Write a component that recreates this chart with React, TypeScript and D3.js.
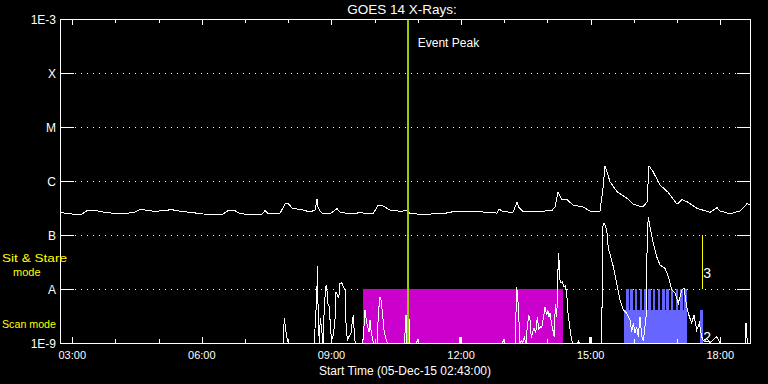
import React from 'react';
import * as d3 from 'd3';

const W = 768;
const H = 384;
const PLOT = { left: 60, right: 750.5, top: 19, bottom: 343 };

// times in decimal hours (UT, 05-Dec-15)
const timeStart = 2 + 43 / 60;
const timeEnd = 18 + 42 / 60;
const majorHours = [3, 6, 9, 12, 15, 18];
const majorLabels = ['03:00', '06:00', '09:00', '12:00', '15:00', '18:00'];
const minorHours = [3, 4, 5, 6, 7, 8, 9, 10, 11, 12, 13, 14, 15, 16, 17, 18];

const yTickValues = [1e-3, 1e-4, 1e-5, 1e-6, 1e-7, 1e-8, 1e-9];
const yTickLabels = ['1E-3', 'X', 'M', 'C', 'B', 'A', '1E-9'];
const gridValues = [1e-4, 1e-5, 1e-6, 1e-7, 1e-8];

const FLOOR = 1e-10;

// GOES long channel (1-8 Å) [hour, flux]
const longChannel: [number, number][] = [
  [2.717, 2.59e-7], [2.879, 2.52e-7], [3.110, 2.38e-7], [3.226, 2.45e-7], [3.365, 2.90e-7],
  [3.481, 2.90e-7], [3.712, 2.67e-7], [3.944, 2.52e-7], [4.268, 2.52e-7], [4.453, 2.67e-7],
  [4.569, 2.99e-7], [4.800, 2.82e-7], [4.869, 2.75e-7], [5.193, 2.82e-7], [5.263, 2.99e-7],
  [5.494, 2.75e-7], [5.795, 2.59e-7], [6.027, 2.45e-7], [6.351, 2.38e-7], [6.490, 2.45e-7],
  [6.606, 2.82e-7], [6.768, 2.82e-7], [6.883, 2.48e-7], [7.184, 2.38e-7], [7.393, 2.45e-7],
  [7.462, 2.82e-7], [7.532, 2.52e-7], [7.809, 2.52e-7], [7.925, 3.75e-7], [7.995, 3.86e-7],
  [8.087, 3.16e-7], [8.342, 2.90e-7], [8.504, 2.67e-7], [8.620, 2.90e-7], [8.666, 4.58e-7],
  [8.689, 3.34e-7], [8.735, 2.82e-7], [8.782, 2.52e-7], [8.967, 2.45e-7], [9.129, 3.07e-7],
  [9.198, 2.67e-7], [9.430, 2.45e-7], [9.661, 2.59e-7], [9.962, 2.45e-7], [10.078, 3.55e-7],
  [10.194, 3.44e-7], [10.356, 2.90e-7], [10.587, 2.75e-7], [10.749, 2.82e-7], [10.819, 2.52e-7],
  [11.050, 2.42e-7], [11.583, 2.48e-7], [11.814, 2.70e-7], [12.208, 2.78e-7], [12.601, 2.63e-7],
  [12.833, 2.55e-7], [12.879, 3.03e-7], [12.972, 2.70e-7], [13.203, 2.63e-7], [13.296, 4.03e-7],
  [13.342, 3.21e-7], [13.434, 2.70e-7], [13.758, 2.70e-7], [14.106, 2.86e-7], [14.175, 3.30e-7],
  [14.245, 6.34e-7], [14.337, 4.51e-7], [14.453, 4.51e-7], [14.592, 3.60e-7], [14.823, 3.30e-7],
  [14.985, 2.78e-7], [15.217, 2.78e-7], [15.286, 7.41e-7], [15.333, 1.92e-6], [15.448, 9.70e-7],
  [15.610, 6.34e-7], [15.842, 4.79e-7], [15.981, 3.71e-7], [16.212, 3.30e-7], [16.305, 4.14e-7],
  [16.351, 1.92e-6], [16.444, 1.49e-6], [16.606, 8.43e-7], [16.791, 6.18e-7], [16.999, 3.71e-7],
  [17.115, 4.51e-7], [17.231, 4.14e-7], [17.462, 3.12e-7], [17.763, 2.63e-7], [17.925, 3.21e-7],
  [17.994, 2.78e-7], [18.226, 2.48e-7], [18.457, 2.78e-7], [18.619, 3.80e-7], [18.689, 3.60e-7],
];

// GOES short channel (0.5-4 Å) [hour, flux]
const shortChannel: [number, number][] = [
  [2.717, FLOOR], [7.879, FLOOR], [7.909, 2.87e-9], [7.941, 1.74e-9], [7.964, 1.31e-9], [8.001, FLOOR],
  [8.603, FLOOR], [8.620, 1.90e-9], [8.636, 3.80e-9], [8.659, 5.06e-9], [8.673, 2.67e-8], [8.696, 2.67e-9],
  [8.719, FLOOR], [8.742, 2.87e-9], [8.775, 1.74e-9], [8.805, FLOOR], [8.835, 4.70e-9], [8.867, 1.10e-8],
  [8.890, 1.14e-8], [8.913, 5.43e-9], [8.950, 4.70e-9], [8.983, 1.62e-9], [9.006, 1.14e-9], [9.043, 1.41e-9],
  [9.082, 2.67e-9], [9.105, 8.91e-9], [9.136, 7.74e-9], [9.168, 6.73e-9], [9.198, 1.28e-8], [9.237, 1.31e-8],
  [9.274, 1.10e-8], [9.314, 9.57e-9], [9.337, 2.32e-9], [9.367, 1.14e-9], [9.413, 1.35e-9], [9.453, 1.51e-9],
  [9.483, 2.48e-9], [9.506, 3.30e-9], [9.538, 1.14e-9], [9.569, FLOOR], [9.720, FLOOR], [9.738, 1.28e-9],
  [9.777, 4.08e-9], [9.816, 2.32e-9], [9.839, 2.01e-9], [9.869, 1.62e-9], [9.893, 2.67e-9], [9.916, 1.74e-9],
  [9.955, 1.14e-9], [9.985, FLOOR], [10.060, FLOOR], [10.085, 3.55e-9], [10.124, 7.20e-9], [10.147, 6.25e-9],
  [10.177, 3.80e-9], [10.217, 1.74e-9], [10.263, 1.17e-9], [10.298, FLOOR], [10.690, FLOOR], [10.726, 3.30e-9],
  [10.749, FLOOR], [10.772, FLOOR], [10.795, 2.87e-9], [10.819, FLOOR], [10.970, FLOOR], [10.988, 1.14e-9],
  [11.010, FLOOR], [11.960, FLOOR], [11.976, 1.28e-9], [11.995, FLOOR], [12.960, FLOOR], [12.979, 1.14e-9],
  [13.000, FLOOR], [13.250, FLOOR], [13.266, 1.51e-9], [13.280, 1.07e-8], [13.303, 8.91e-9], [13.326, 4.70e-9],
  [13.349, 1.74e-9], [13.365, FLOOR], [13.404, 1.10e-9], [13.430, FLOOR], [13.464, 1.28e-9], [13.504, FLOOR],
  [13.534, 2.01e-9], [13.566, 3.30e-9], [13.596, 2.67e-9], [13.627, 1.22e-9], [13.659, 1.62e-9], [13.689, 1.90e-9],
  [13.728, 1.51e-9], [13.765, 3.07e-9], [13.798, 1.74e-9], [13.828, 2.01e-9], [13.867, 1.90e-9], [13.904, 2.87e-9],
  [13.944, 4.58e-9], [13.983, 3.30e-9], [14.006, 4.08e-9], [14.036, 3.07e-9], [14.059, 3.64e-9], [14.098, 2.15e-9],
  [14.136, 1.62e-9], [14.159, 1.28e-9], [14.182, 5.27e-9], [14.215, 3.07e-9], [14.238, 1.28e-8], [14.252, 4.58e-8],
  [14.275, 2.99e-8], [14.291, 1.47e-8], [14.314, 1.28e-8], [14.344, 1.36e-8], [14.376, 1.10e-8], [14.414, 1.14e-8],
  [14.446, 8.32e-9], [14.476, 3.55e-9], [14.506, 2.32e-9], [14.530, 1.62e-9], [14.553, 1.22e-9], [14.585, FLOOR],
  [14.700, FLOOR], [14.715, 1.10e-9], [14.735, FLOOR], [14.970, FLOOR], [14.985, 1.31e-9], [15.001, FLOOR],
  [15.256, FLOOR], [15.279, 1.43e-7], [15.309, 1.69e-7], [15.372, 1.24e-7], [15.409, 5.68e-8], [15.464, 3.97e-8],
  [15.525, 2.59e-8], [15.603, 1.28e-8], [15.680, 6.25e-9], [15.756, 4.08e-9], [15.835, 3.55e-9], [15.911, 2.67e-9],
  [15.950, 1.62e-9], [15.988, 2.32e-9], [16.027, 1.51e-9], [16.066, 2.01e-9], [16.103, 1.31e-9], [16.143, 3.07e-9],
  [16.182, 1.31e-9], [16.219, 1.10e-9], [16.282, 3.07e-9], [16.312, 1.07e-7], [16.335, 2.13e-7], [16.374, 1.43e-7],
  [16.451, 7.02e-8], [16.529, 3.97e-8], [16.606, 2.78e-8], [16.721, 2.42e-8], [16.798, 1.69e-8], [16.877, 9.57e-9],
  [16.953, 8.32e-9], [17.029, 5.43e-9], [17.108, 9.57e-9], [17.161, 1.03e-8], [17.224, 4.70e-9], [17.284, 3.07e-9],
  [17.339, 2.32e-9], [17.392, 3.30e-9], [17.455, 1.74e-9], [17.515, 2.32e-9], [17.570, 1.31e-9], [17.607, 1.10e-9],
  [17.686, 1.22e-9], [17.763, FLOOR], [17.918, 1.31e-9], [17.994, FLOOR], [18.573, FLOOR], [18.596, 2.38e-9],
  [18.626, FLOOR], [18.689, FLOOR],
];

// Observation modes
const sitStareIntervals: [string, string][] = [['09:44', '14:21']];
const scanSolidIntervals: [string, string][] = [['15:46', '17:14'], ['17:32', '17:36']];
const scanSolidTop = 4.1e-9;
const scanStripeStarts = ['15:49', '15:55', '16:01', '16:08', '16:14', '16:20', '16:26', '16:33', '16:39', '16:45', '16:51', '16:58', '17:04', '17:10'];
const scanStripeMinutes = 3.75;
const modeTop = 1e-8;

const eventPeakTime = '10:46';
const markerTime = '17:35';
const markerRange: [number, number] = [1e-8, 1e-7];

const hm = (s: string) => {
  const [h, m] = s.split(':').map(Number);
  return h + m / 60;
};

const FONT = "'Liberation Sans', Arial, sans-serif";

export default function App() {
  const x = d3.scaleLinear().domain([timeStart, timeEnd]).range([PLOT.left, PLOT.right]);
  const y = d3.scaleLog().domain([1e-9, 1e-3]).range([PLOT.bottom, PLOT.top]).clamp(true);

  const line = d3
    .line<[number, number]>()
    .x((d) => x(d[0]))
    .y((d) => y(d[1]));

  const yBottom = y(1e-9);
  const yA = y(modeTop);

  return (
    <svg
      width={W}
      height={H}
      style={{ position: 'absolute', left: 0, top: 0, display: 'block' }}
      fontFamily={FONT}
    >
      <rect x={0} y={0} width={W} height={H} fill="#000" />

      {/* grid */}
      {gridValues.map((v) => (
        <line
          key={'g' + v}
          x1={PLOT.left + 15}
          x2={PLOT.right - 15}
          y1={Math.round(y(v)) + 0.5}
          y2={Math.round(y(v)) + 0.5}
          stroke="#fff"
          strokeDasharray="1 5"
          shapeRendering="crispEdges"
        />
      ))}

      {/* sit & stare mode */}
      {sitStareIntervals.map(([a, b], i) => (
        <rect
          key={'ss' + i}
          x={x(hm(a))}
          y={yA}
          width={x(hm(b)) - x(hm(a))}
          height={yBottom - yA}
          fill="#cc00cc"
          shapeRendering="crispEdges"
        />
      ))}

      {/* scan mode */}
      {scanSolidIntervals.map(([a, b], i) => (
        <rect
          key={'sc' + i}
          x={x(hm(a))}
          y={y(scanSolidTop)}
          width={x(hm(b)) - x(hm(a))}
          height={yBottom - y(scanSolidTop)}
          fill="#6666ff"
          shapeRendering="crispEdges"
        />
      ))}
      {scanStripeStarts.map((s, i) => {
        const t0 = hm(s);
        const t1 = t0 + scanStripeMinutes / 60;
        return (
          <rect
            key={'st' + i}
            x={x(t0)}
            y={yA}
            width={x(t1) - x(t0)}
            height={y(scanSolidTop) - yA}
            fill="#6666ff"
            shapeRendering="crispEdges"
          />
        );
      })}

      {/* curves */}
      <path d={line(shortChannel) || ''} fill="none" stroke="#fff" strokeWidth={1} shapeRendering="crispEdges" />
      <path d={line(longChannel) || ''} fill="none" stroke="#fff" strokeWidth={1} shapeRendering="crispEdges" />

      {/* event peak */}
      <line
        x1={x(hm(eventPeakTime))}
        x2={x(hm(eventPeakTime))}
        y1={PLOT.top}
        y2={PLOT.bottom}
        stroke="#99cc00"
        strokeWidth={2}
        shapeRendering="crispEdges"
      />
      <text x={x(hm(eventPeakTime)) + 10} y={47} fill="#fff" fontSize={12}>
        Event Peak
      </text>

      {/* marker */}
      <line
        x1={x(hm(markerTime))}
        x2={x(hm(markerTime))}
        y1={y(markerRange[1])}
        y2={y(markerRange[0])}
        stroke="#ffff00"
        strokeWidth={1.5}
        shapeRendering="crispEdges"
      />
      <text x={x(hm(markerTime)) + 1} y={y(markerRange[0]) - 11} fill="#fff" fontSize={14}>
        3
      </text>
      <text x={x(hm(markerTime)) + 1} y={yBottom - 1} fill="#fff" fontSize={14}>
        2
      </text>

      {/* frame */}
      <rect
        x={PLOT.left + 0.5}
        y={PLOT.top + 0.5}
        width={PLOT.right - PLOT.left - 1}
        height={PLOT.bottom - PLOT.top}
        fill="none"
        stroke="#fff"
        shapeRendering="crispEdges"
      />

      {/* y ticks */}
      {yTickValues.map((v, i) => {
        const yy = Math.round(y(v)) + 0.5;
        return (
          <g key={'yt' + v}>
            <line x1={PLOT.left} x2={PLOT.left + 14} y1={yy} y2={yy} stroke="#fff" shapeRendering="crispEdges" />
            <line x1={PLOT.right - 14} x2={PLOT.right} y1={yy} y2={yy} stroke="#fff" shapeRendering="crispEdges" />
            <text x={56} y={yy + 4.5} fill="#fff" fontSize={12} textAnchor="end">
              {yTickLabels[i]}
            </text>
          </g>
        );
      })}

      {/* x ticks */}
      {minorHours.map((h) => {
        const xx = Math.round(x(h)) + 0.5;
        const len = majorHours.includes(h) ? 6 : 4;
        return (
          <g key={'xt' + h}>
            <line x1={xx} x2={xx} y1={PLOT.top} y2={PLOT.top + len} stroke="#fff" shapeRendering="crispEdges" />
            <line x1={xx} x2={xx} y1={PLOT.bottom} y2={PLOT.bottom - len} stroke="#fff" shapeRendering="crispEdges" />
          </g>
        );
      })}
      {majorHours.map((h, i) => (
        <text key={'xl' + h} x={x(h)} y={359} fill="#fff" fontSize={11} textAnchor="middle">
          {majorLabels[i]}
        </text>
      ))}

      {/* titles */}
      <text x={402} y={14} fill="#fff" fontSize={13.5} textAnchor="middle">
        GOES 14 X-Rays:
      </text>
      <text x={405} y={375} fill="#fff" fontSize={12} textAnchor="middle">
        Start Time (05-Dec-15 02:43:00)
      </text>

      {/* mode labels */}
      <text x={2} y={262} fill="#ffff00" fontSize={11} textLength={65} lengthAdjust="spacingAndGlyphs">
        Sit &amp; Stare
      </text>
      <text x={13} y={276} fill="#ffff00" fontSize={11}>
        mode
      </text>
      <text x={2} y={328} fill="#ffff00" fontSize={11} textLength={54} lengthAdjust="spacingAndGlyphs">
        Scan mode
      </text>
    </svg>
  );
}
